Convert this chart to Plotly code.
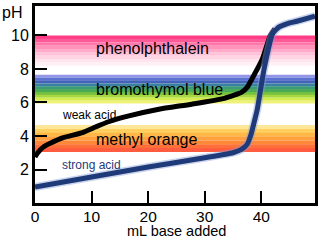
import plotly.graph_objects as go

# ---- data ----
weak_x = [0, 0.5, 1.5, 2.6, 5, 8.4, 10.8, 13, 16.6, 21.9, 27.7, 33.5, 36.5, 37.5, 38.5, 40.2, 41.6, 42.4]
weak_ph = [2.75, 3.0, 3.35, 3.55, 3.9, 4.2, 4.55, 4.85, 5.2, 5.6, 5.9, 6.25, 6.6, 6.9, 7.5, 8.6, 10.0, 10.4]

strong_x = [0, 10, 20, 30, 35, 36.5, 37.5, 38.2, 38.8, 39.3, 40.5, 42, 43.1, 44.5, 46.3, 49.5]
strong_ph = [0.95, 1.55, 2.15, 2.7, 3.0, 3.2, 3.5, 4.1, 4.9, 5.6, 8.0, 10.1, 10.5, 10.7, 10.85, 11.15]

indicators = ["phenolphthalein", "bromothymol blue", "methyl orange"]
band_top = [10.0, 7.65, 4.65]
band_bottom = [8.2, 5.95, 3.05]
label_x = [10.5, 10.5, 10.5]
label_ph = [9.2, 6.8, 3.8]

x_ticks = [0, 10, 20, 30, 40]
y_ticks = [2, 4, 6, 8, 10]

band_colors = [
    ["#ff3d86", "#ff5a97", "#ff77a8", "#ff93ba", "#ffabc9", "#ffc2d8", "#ffd4e3", "#ffe3ed", "#fff0f5"],
    ["#9494e8", "#5a72d0", "#4462b8", "#3a80a0", "#3c9a78", "#4aaa58", "#74c040", "#a8d840", "#d4ec50", "#eef27a"],
    ["#ffe79a", "#ffd060", "#ffb848", "#ffa03c", "#ff8838", "#ff7038", "#ff5c40"],
]

FONT = "Liberation Sans, Arial, sans-serif"

fig = go.Figure()

shapes = []
for top, bot, cols in zip(band_top, band_bottom, band_colors):
    n = len(cols)
    h = (top - bot) / n
    for i, c in enumerate(cols):
        shapes.append(dict(type="rect", xref="x", yref="y", x0=0, x1=49.5,
                           y0=top - (i + 1) * h - 0.01, y1=top - i * h,
                           fillcolor=c, line=dict(width=0), layer="below"))

fig.add_trace(go.Scatter(x=weak_x, y=weak_ph, mode="lines",
                         line=dict(color="black", width=5, shape="spline", smoothing=0.5),
                         hoverinfo="skip", showlegend=False))
fig.add_trace(go.Scatter(x=strong_x, y=strong_ph, mode="lines",
                         line=dict(color="rgba(140,160,215,0.45)", width=8, shape="spline", smoothing=0.5),
                         hoverinfo="skip", showlegend=False))
fig.add_trace(go.Scatter(x=strong_x, y=strong_ph, mode="lines",
                         line=dict(color="#1e3a78", width=5, shape="spline", smoothing=0.5),
                         hoverinfo="skip", showlegend=False))

annotations = []
for name, lx, ly in zip(indicators, label_x, label_ph):
    annotations.append(dict(x=lx, y=ly, xref="x", yref="y", text=name, showarrow=False,
                            xanchor="left", yanchor="middle",
                            font=dict(family=FONT, size=16, color="black")))
annotations.append(dict(x=4.4, y=5.24, xref="x", yref="y", text="weak acid", showarrow=False,
                        xanchor="left", yanchor="middle",
                        font=dict(family=FONT, size=12, color="black")))
annotations.append(dict(x=4.4, y=2.24, xref="x", yref="y", text="strong acid", showarrow=False,
                        xanchor="left", yanchor="middle",
                        font=dict(family=FONT, size=12, color="#1e3a78")))
annotations.append(dict(x=-35 / 283, y=0.965, xref="paper", yref="paper", text="pH", showarrow=False,
                        xanchor="left", yanchor="middle",
                        font=dict(family=FONT, size=16, color="black")))
annotations.append(dict(x=(178 - 35) / 283, y=-(241 - 203) / 200, xref="paper", yref="paper",
                        text="mL base added", showarrow=False, borderpad=0,
                        xanchor="center", yanchor="bottom",
                        font=dict(family=FONT, size=14.5, color="black")))

fig.update_layout(
    width=321, height=241,
    margin=dict(l=35, r=3, t=3, b=38),
    paper_bgcolor="white", plot_bgcolor="white",
    shapes=shapes, annotations=annotations,
    showlegend=False,
    xaxis=dict(range=[0, 49.5], tickvals=x_ticks, ticktext=[str(v) for v in x_ticks],
               ticks="inside", ticklen=12, tickwidth=1.5, tickcolor="black",
               showline=True, linecolor="black", linewidth=3, mirror=True,
               showgrid=False, zeroline=False, ticklabelstandoff=-3,
               tickfont=dict(family=FONT, size=15.5, color="black")),
    yaxis=dict(range=[0, 11.76], tickvals=y_ticks, ticktext=[str(v) for v in y_ticks],
               ticks="inside", ticklen=12, tickwidth=1.5, tickcolor="black",
               showline=True, linecolor="black", linewidth=3, mirror=True,
               showgrid=False, zeroline=False,
               tickfont=dict(family=FONT, size=16, color="black")),
)

fig.write_html("out.html")
